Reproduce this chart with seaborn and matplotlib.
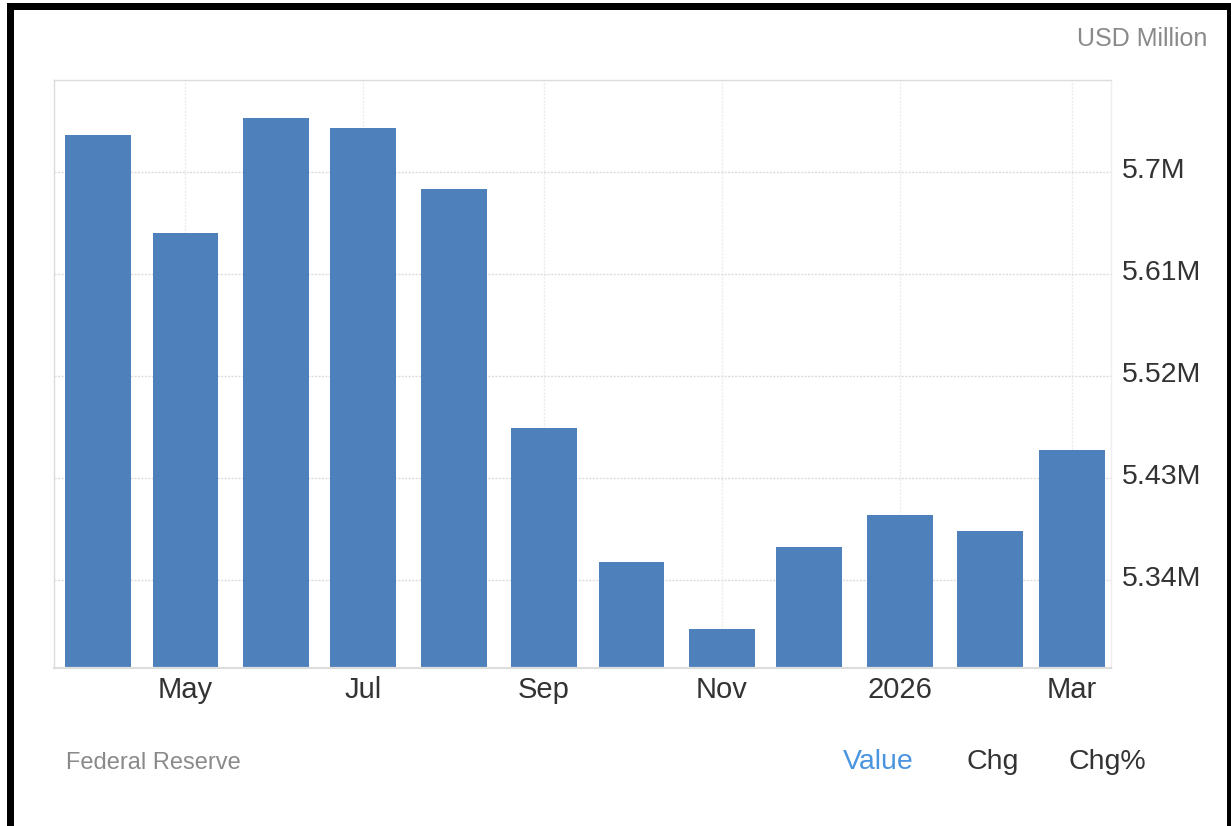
import matplotlib
matplotlib.use("Agg")
import matplotlib.pyplot as plt
from matplotlib.patches import Rectangle
from matplotlib.transforms import ScaledTranslation
import pandas as pd
import seaborn as sns

# Monthly totals, USD million (labelled in "M")
month_starts = ["2025-04-01", "2025-05-01", "2025-06-01", "2025-07-01",
                "2025-08-01", "2025-09-01", "2025-10-01", "2025-11-01",
                "2025-12-01", "2026-01-01", "2026-02-01", "2026-03-01"]
values = [5.733, 5.646, 5.748, 5.739, 5.685, 5.474,
          5.356, 5.297, 5.369, 5.397, 5.383, 5.455]

tick_dates = ["2025-05-01", "2025-07-01", "2025-09-01",
              "2025-11-01", "2026-01-01", "2026-03-01"]
tick_labels = ["May", "Jul", "Sep", "Nov", "2026", "Mar"]

y_ticks = [5.34, 5.43, 5.52, 5.61, 5.70]
y_labels = ["5.34M", "5.43M", "5.52M", "5.61M", "5.7M"]

sns.set_theme(style="white")
plt.rcParams["font.family"] = ["Liberation Sans", "DejaVu Sans"]

W, H = 1231, 826
fig = plt.figure(figsize=(W / 100, H / 100), dpi=100)
fig.patch.set_facecolor("white")

ax = fig.add_axes([54 / W, 1 - 668 / H, (1111 - 54) / W, (668 - 80) / H])

# Place bars on a day axis so month lengths set the spacing
origin = pd.Timestamp(month_starts[0])
day = [(pd.Timestamp(d) - origin).days for d in month_starts]
tick_days = [(pd.Timestamp(d) - origin).days for d in tick_dates]

df = pd.DataFrame({"day": day, "value": values})
sns.barplot(data=df, x="day", y="value", native_scale=True, color="#4e80bc",
            saturation=1, width=0.807, ax=ax, edgecolor="none")

ax.set_xlim(-15.1, 347.5)
ax.set_ylim(5.2623, 5.7812)
ax.set_xlabel("")
ax.set_ylabel("")

ax.set_xticks(tick_days)
ax.set_xticklabels(tick_labels)
ax.set_yticks(y_ticks)
ax.set_yticklabels(y_labels)
ax.yaxis.tick_right()
ax.tick_params(axis="x", length=0, labelsize=21, labelcolor="#333333", pad=6)
ax.tick_params(axis="y", length=0, labelsize=20.5, labelcolor="#333333", pad=8)

# value labels sit slightly above their grid lines
lift = ScaledTranslation(0, 4 / 100, fig.dpi_scale_trans)
for lab in ax.get_yticklabels():
    lab.set_transform(lab.get_transform() + lift)

ax.set_axisbelow(True)
ax.grid(axis="y", color="#dcdcdc", linestyle=(0, (1.5, 1.0)), linewidth=1.0)
ax.grid(axis="x", color="#ececec", linestyle=(0, (1.5, 1.0)), linewidth=1.0)

for side in ("left", "top"):
    ax.spines[side].set_color("#dcdcdc")
    ax.spines[side].set_linestyle((0, (1.5, 1.0)))
    ax.spines[side].set_linewidth(1.0)
ax.spines["right"].set_color("#eeeeee")
ax.spines["right"].set_linewidth(1.0)
ax.spines["bottom"].set_color("#dddddd")
ax.spines["bottom"].set_linewidth(1.6)

# Header and footer texts
fig.text(1207 / W, 1 - 39 / H, "USD Million", ha="right", va="center",
         fontsize=18, color="#8a8a8a")
fig.text(66 / W, 1 - 763 / H, "Federal Reserve", ha="left", va="center",
         fontsize=17, color="#8a8a8a")
fig.text(843 / W, 1 - 762 / H, "Value", ha="left", va="center",
         fontsize=20.5, color="#4a95e0")
fig.text(967 / W, 1 - 762 / H, "Chg", ha="left", va="center",
         fontsize=20.5, color="#333333")
fig.text(1069 / W, 1 - 762 / H, "Chg%", ha="left", va="center",
         fontsize=20.5, color="#333333")

# Black frame around the panel (open at the bottom)
frame = dict(transform=fig.transFigure, facecolor="black", edgecolor="none",
             zorder=10)
fig.patches.append(Rectangle((7 / W, 1 - 10 / H), (1231 - 7) / W, 7 / H, **frame))
fig.patches.append(Rectangle((7 / W, 0), 7 / W, 1 - 3 / H, **frame))
fig.patches.append(Rectangle((1227 / W, 0), 4 / W, 1 - 3 / H, **frame))

fig.savefig("out.png", dpi=100, facecolor="white")
